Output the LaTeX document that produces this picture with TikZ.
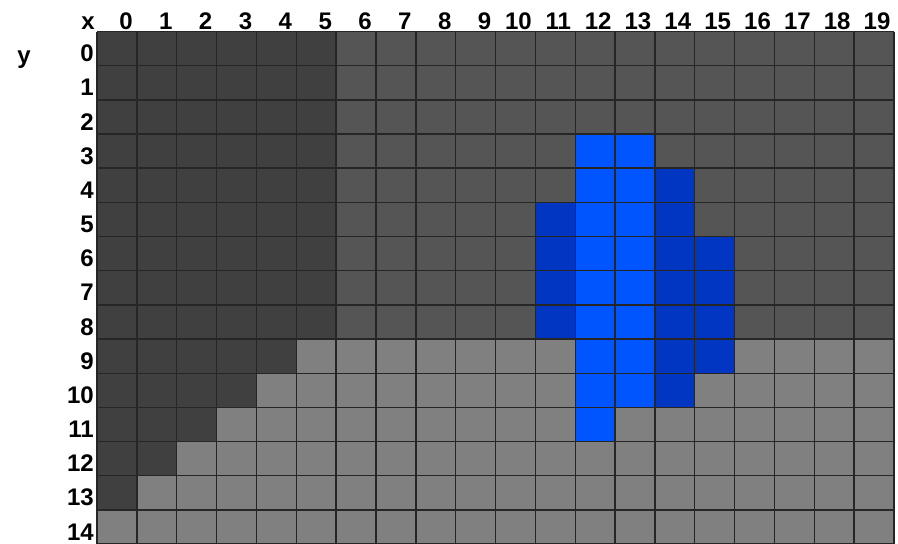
\documentclass[tikz,border=0pt]{standalone}
\usepackage{fontspec}
\setmainfont{Liberation Sans}
\definecolor{dk}{HTML}{404040}
\definecolor{md}{HTML}{555555}
\definecolor{lt}{HTML}{808080}
\definecolor{bb}{HTML}{0055FF}
\definecolor{db}{HTML}{0036C2}
\begin{document}
\begin{tikzpicture}[x=1pt,y=-1pt,
  lab/.style={font=\bfseries\fontsize{24}{24}\selectfont, inner sep=0pt},
  gridline/.style={draw=black!85, line width=1.4pt}]
\useasboundingbox (0,0) rectangle (898,544);
\def\W{39.85}\def\H{34.17}\def\XO{97}\def\YO{31.5}
% base fills
\fill[lt] (\XO,\YO) rectangle ++({20*\W},{15*\H});
\fill[md] (\XO,\YO) rectangle ++({20*\W},{9*\H});
\fill[dk] (\XO,\YO) rectangle ++({6*\W},{9*\H});
\foreach \r/\n in {9/5,10/4,11/3,12/2,13/1}
  \fill[dk] (\XO,{\YO+\r*\H}) rectangle ++({\n*\W},\H);
% blue region
\fill[bb] ({\XO+12*\W},{\YO+3*\H}) rectangle ++({2*\W},{8*\H});
\fill[bb] ({\XO+12*\W},{\YO+11*\H}) rectangle ++(\W,\H);
\fill[db] ({\XO+14*\W},{\YO+4*\H}) rectangle ++(\W,{7*\H});
\fill[db] ({\XO+15*\W},{\YO+6*\H}) rectangle ++(\W,{4*\H});
\fill[db] ({\XO+11*\W},{\YO+5*\H}) rectangle ++(\W,{4*\H});
% grid lines
\foreach \i in {0,...,20}
  \draw[gridline] ({\XO+\i*\W},\YO) -- ++(0,{15*\H});
\foreach \j in {0,...,15}
  \draw[gridline] (\XO,{\YO+\j*\H}) -- ++({20*\W},0);
% labels
\node[lab, anchor=base] (xlab) at (88,29.5) {x};
\node[lab, anchor=base] (ylab) at (24,63) {y};
\foreach \i in {0,...,19}{
  \pgfmathsetmacro\off{\i<10 ? 9 : 3}
  \node[lab, anchor=base] (cx\i) at ({\XO+(\i+0.5)*\W+\off},29.5) {\i};
}
\foreach \r in {0,...,14}
  \node[lab, anchor=base east] (ry\r) at (94,{\YO+(\r+1)*\H-4}) {\r};
\end{tikzpicture}
\end{document}
